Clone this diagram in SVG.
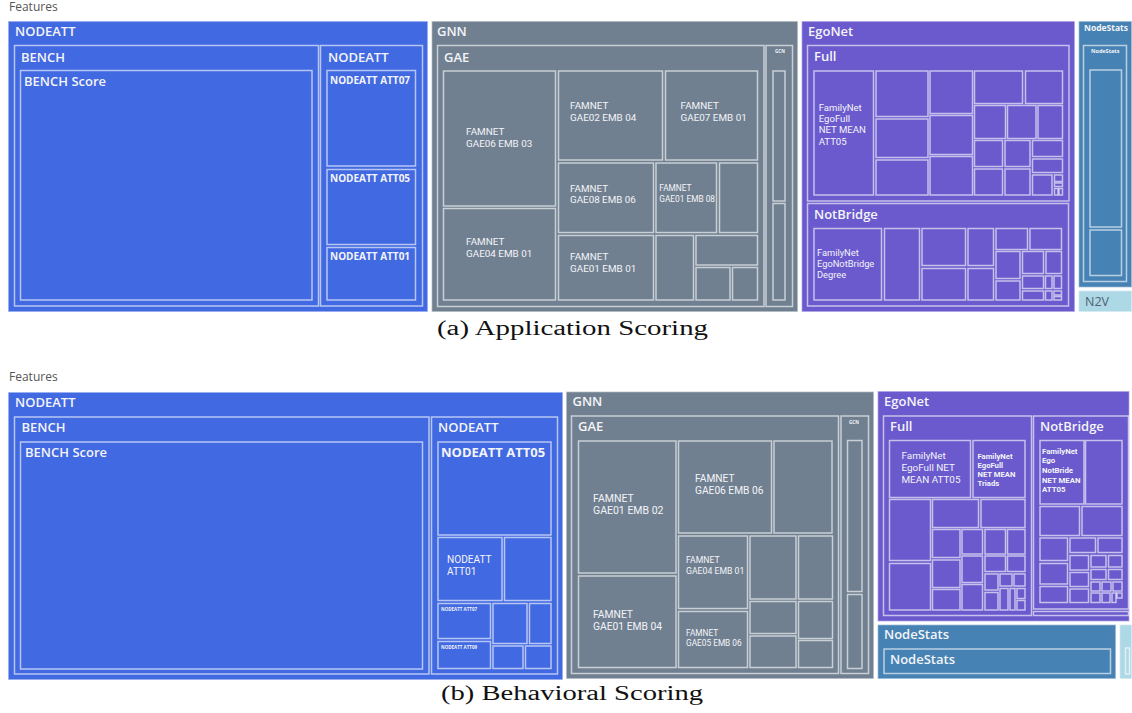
<svg xmlns="http://www.w3.org/2000/svg" width="1132" height="713" viewBox="0 0 1132 713">
<style>
rect{stroke:#ffffff;stroke-opacity:.62;stroke-width:1.5}
.na{fill:#4169E1}.gn{fill:#708090}.eg{fill:#6A5ACD}.ns{fill:#4682B4}.n2{fill:#ADD8E6}
text{font-family:"Open Sans","Liberation Sans",sans-serif;fill:#f4f4f8}
.h{font-size:13px;font-weight:600}
.m{font-size:10px;font-weight:700}
.ml{font-family:Roboto,"Liberation Sans",sans-serif;font-weight:400}
.mb{font-family:Roboto,"Liberation Sans",sans-serif;font-weight:700}
.s{font-size:8.5px;font-weight:700}
.t{font-size:4.5px;font-weight:700}
.ft{font-size:12px;fill:#555}
.cap{font-family:"Liberation Serif","DejaVu Serif",serif;font-size:20px;fill:#111}
</style>
<rect x="0" y="0" width="1132" height="713" fill="#ffffff" style="stroke:none"/>

<!-- ===== (a) Application Scoring ===== -->
<text class="ft" x="9" y="11">Features</text>
<g id="a-nodeatt">
<rect class="na" x="8" y="21" width="420" height="291"/>
<text class="h" x="15" y="36">NODEATT</text>
<g id="a-bench"><rect class="na" x="14.5" y="45.5" width="304" height="260.5"/><text class="h" x="21" y="61.5">BENCH</text></g>
<g id="a-bench-score"><rect class="na" x="20.5" y="70.5" width="291.5" height="229.5"/><text class="h" x="24" y="86">BENCH Score</text></g>
<g id="a-nodeatt2"><rect class="na" x="320.5" y="45.5" width="102" height="260.5"/><text class="h" x="328" y="61.5">NODEATT</text></g>
<g id="a-att07"><rect class="na" x="327" y="70.5" width="88.5" height="95.5"/><text class="m" x="330" y="84">NODEATT ATT07</text></g>
<g id="a-att05"><rect class="na" x="327" y="169.5" width="88.5" height="75"/><text class="m" x="330" y="182">NODEATT ATT05</text></g>
<g id="a-att01"><rect class="na" x="327" y="247.5" width="88.5" height="52.5"/><text class="m" x="330" y="260">NODEATT ATT01</text></g>
</g>

<g id="a-gnn">
<rect class="gn" x="431.5" y="21" width="366.5" height="291"/>
<text class="h" x="437" y="35.5">GNN</text>
<g id="a-gae"><rect class="gn" x="437.5" y="45.5" width="326.5" height="261"/><text class="h" x="444" y="61.5">GAE</text></g>
<g id="a-gcn"><rect class="gn" x="766" y="45.5" width="26.5" height="261"/><text class="t" x="775" y="53">GCN</text>
<rect class="gn" x="773" y="71" width="12" height="130"/><rect class="gn" x="773" y="203.5" width="12" height="96.5"/></g>
<g id="a-gae06-03"><rect class="gn" x="443.5" y="71" width="112" height="135"/><text class="ml" font-size="9.9" x="466" y="135">FAMNET<tspan x="466" dy="11.7">GAE06 EMB 03</tspan></text></g>
<g id="a-gae04-01"><rect class="gn" x="443.5" y="208.5" width="112" height="91.5"/><text class="ml" font-size="9.9" x="466" y="245">FAMNET<tspan x="466" dy="11.7">GAE04 EMB 01</tspan></text></g>
<g id="a-gae02-04"><rect class="gn" x="558.5" y="71" width="104" height="89"/><text class="ml" font-size="9.9" x="570" y="109">FAMNET<tspan x="570" dy="12">GAE02 EMB 04</tspan></text></g>
<g id="a-gae07-01"><rect class="gn" x="665.5" y="71" width="92" height="89"/><text class="ml" font-size="9.9" x="680.5" y="109">FAMNET<tspan x="680.5" dy="12">GAE07 EMB 01</tspan></text></g>
<g id="a-gae08-06"><rect class="gn" x="558.5" y="163" width="95" height="69.5"/><text class="ml" font-size="9.8" x="570" y="191.7">FAMNET<tspan x="570" dy="11.6">GAE08 EMB 06</tspan></text></g>
<g id="a-gae01-08"><rect class="gn" x="656" y="163" width="60.5" height="69.5"/><text class="ml" font-size="8.3" font-weight="500" x="659.3" y="191">FAMNET<tspan x="659.3" dy="10.7">GAE01 EMB 08</tspan></text></g>
<g id="a-gae01-01"><rect class="gn" x="558.5" y="235.5" width="95" height="64.5"/><text class="ml" font-size="9.9" x="570" y="260">FAMNET<tspan x="570" dy="11.7">GAE01 EMB 01</tspan></text></g>
<g id="a-gae-small">
<rect class="gn" x="719.5" y="163" width="38" height="69.5"/>
<rect class="gn" x="656" y="235.5" width="37.5" height="64.5"/>
<rect class="gn" x="696" y="235.5" width="61.5" height="29.5"/>
<rect class="gn" x="696" y="267.5" width="34" height="32.5"/>
<rect class="gn" x="732.5" y="267.5" width="25" height="32.5"/>
</g>
</g>

<g id="a-egonet">
<rect class="eg" x="801.5" y="21" width="273.5" height="291"/>
<text class="h" x="808" y="35.5">EgoNet</text>
<g id="a-full"><rect class="eg" x="807.5" y="45.5" width="261.5" height="155.5"/><text class="h" x="814" y="61">Full</text></g>
<g id="a-full-att05"><rect class="eg" x="814" y="71" width="59.5" height="124"/>
<text class="ml" font-size="9.6" x="818.7" y="110.7">FamilyNet<tspan x="818.7" dy="11.3">EgoFull</tspan><tspan x="818.7" dy="11.3">NET MEAN</tspan><tspan x="818.7" dy="11.4">ATT05</tspan></text></g>
<g id="a-full-small">
<rect class="eg" x="876" y="71" width="52" height="45.5"/><rect class="eg" x="876" y="119" width="52" height="38.5"/><rect class="eg" x="876" y="160" width="52" height="35"/>
<rect class="eg" x="930" y="71" width="42.5" height="42.5"/><rect class="eg" x="930" y="115.5" width="42.5" height="39"/><rect class="eg" x="930" y="156.5" width="42.5" height="38.5"/>
<rect class="eg" x="974.5" y="71" width="48" height="32.5"/><rect class="eg" x="1025.5" y="71" width="37" height="32.5"/>
<rect class="eg" x="974.5" y="105.5" width="31" height="33"/><rect class="eg" x="1007.5" y="105.5" width="28.5" height="33"/><rect class="eg" x="1038" y="105.5" width="24.5" height="33"/>
<rect class="eg" x="974.5" y="140.5" width="28" height="26"/><rect class="eg" x="1005" y="140.5" width="25" height="26"/><rect class="eg" x="1032.5" y="140.5" width="30" height="16"/><rect class="eg" x="1032.5" y="159" width="30" height="13.5"/>
<rect class="eg" x="974.5" y="169" width="28" height="26"/><rect class="eg" x="1005" y="169" width="25" height="26"/><rect class="eg" x="1032.5" y="175" width="19.5" height="20"/>
<rect class="eg" x="1054.5" y="175" width="8" height="6.5"/><rect class="eg" x="1054.5" y="183" width="8" height="3.5"/><rect class="eg" x="1054.5" y="188.5" width="3.5" height="6.5"/><rect class="eg" x="1059" y="188.5" width="3.5" height="6.5"/>
</g>
<g id="a-notbridge"><rect class="eg" x="807.5" y="203.5" width="261" height="102.5"/><text class="h" x="814" y="218.5">NotBridge</text></g>
<g id="a-nb-degree"><rect class="eg" x="814" y="228.5" width="67.5" height="71.5"/>
<text class="ml" font-size="9.3" x="817" y="255.7">FamilyNet<tspan x="817" dy="11">EgoNotBridge</tspan><tspan x="817" dy="11">Degree</tspan></text></g>
<g id="a-nb-small">
<rect class="eg" x="884.5" y="228.5" width="35" height="71.5"/>
<rect class="eg" x="922" y="228.5" width="43.5" height="37"/><rect class="eg" x="922" y="268.5" width="43.5" height="31.5"/>
<rect class="eg" x="968" y="228.5" width="25.5" height="37"/><rect class="eg" x="968" y="268.5" width="25.5" height="31.5"/>
<rect class="eg" x="996" y="228.5" width="31.5" height="21"/><rect class="eg" x="1030" y="228.5" width="31.5" height="21"/>
<rect class="eg" x="996" y="251.5" width="24" height="27"/><rect class="eg" x="1022.5" y="251.5" width="21" height="22"/><rect class="eg" x="1046" y="251.5" width="15.5" height="22"/>
<rect class="eg" x="996" y="281" width="24" height="19"/><rect class="eg" x="1022.5" y="276" width="21" height="12.5"/><rect class="eg" x="1045.5" y="276" width="6.5" height="12.5"/><rect class="eg" x="1054" y="276" width="7.5" height="12.5"/>
<rect class="eg" x="1022.5" y="291" width="21" height="9"/><rect class="eg" x="1045.5" y="291" width="6.5" height="9"/><rect class="eg" x="1054" y="291" width="7.5" height="4"/><rect class="eg" x="1054" y="296.5" width="7.5" height="3.5"/>
</g>
</g>

<g id="a-nodestats">
<rect class="ns" x="1078.5" y="21" width="53.5" height="266.5"/>
<text class="s" x="1084" y="31">NodeStats</text>
<g id="a-nodestats2"><rect class="ns" x="1083.5" y="45.5" width="43" height="236"/><text class="t" x="1091" y="53" style="font-size:5.5px">NodeStats</text>
<rect class="ns" x="1090" y="70" width="31.5" height="157"/><rect class="ns" x="1090" y="230" width="31.5" height="45.5"/></g>
</g>
<g id="a-n2v"><rect class="n2" x="1078.5" y="290.5" width="53.5" height="21.5"/><text x="1085" y="305.5" style="font-size:12.5px;fill:#4f6070">N2V</text></g>
<text class="cap" x="437" y="335" textLength="271" lengthAdjust="spacingAndGlyphs">(a) Application Scoring</text>

<!-- ===== (b) Behavioral Scoring ===== -->
<text class="ft" x="9" y="381">Features</text>
<g id="b-nodeatt">
<rect class="na" x="8" y="392" width="555" height="288"/>
<text class="h" x="15" y="406.5">NODEATT</text>
<g id="b-bench"><rect class="na" x="14.5" y="417" width="414.5" height="257"/><text class="h" x="21.5" y="431.5">BENCH</text></g>
<g id="b-bench-score"><rect class="na" x="20.5" y="442" width="402" height="227"/><text class="h" x="25" y="456.5">BENCH Score</text></g>
<g id="b-nodeatt2"><rect class="na" x="431.5" y="417" width="126" height="257"/><text class="h" x="438" y="431.5">NODEATT</text></g>
<g id="b-att05"><rect class="na" x="438" y="442" width="113" height="93"/><text class="h" x="441" y="456.5" style="font-weight:700">NODEATT ATT05</text></g>
<g id="b-att01"><rect class="na" x="438" y="537.5" width="64" height="63"/><text class="ml" font-size="10.1" x="447" y="563.3">NODEATT<tspan x="447" dy="12">ATT01</tspan></text></g>
<g id="b-att-small">
<rect class="na" x="504.5" y="537.5" width="46.5" height="63"/>
<rect class="na" x="438" y="603.5" width="52.5" height="35"/><text class="t" x="441" y="610.5">NODEATT ATT07</text>
<rect class="na" x="493" y="603.5" width="34" height="40"/>
<rect class="na" x="529.5" y="603.5" width="21.5" height="40"/>
<rect class="na" x="438" y="641.5" width="52.5" height="27"/><text class="t" x="441" y="648.5">NODEATT ATT09</text>
<rect class="na" x="493" y="646" width="30" height="22.5"/>
<rect class="na" x="525.5" y="646" width="25.5" height="22.5"/>
</g>
</g>

<g id="b-gnn">
<rect class="gn" x="566" y="391.5" width="308" height="287.5"/>
<text class="h" x="572.5" y="405.5">GNN</text>
<g id="b-gae"><rect class="gn" x="571.5" y="416" width="267" height="257.5"/><text class="h" x="578" y="431">GAE</text></g>
<g id="b-gcn"><rect class="gn" x="841" y="416" width="27.5" height="257.5"/><text class="t" x="849" y="424">GCN</text>
<rect class="gn" x="847.5" y="440.5" width="14.5" height="151"/><rect class="gn" x="847.5" y="594.5" width="14.5" height="74"/></g>
<g id="b-gae01-02"><rect class="gn" x="578.5" y="441" width="97.5" height="132"/><text class="ml" font-size="10.5" x="593" y="501.7">FAMNET<tspan x="593" dy="12.6">GAE01 EMB 02</tspan></text></g>
<g id="b-gae01-04"><rect class="gn" x="578.5" y="576" width="97.5" height="91.5"/><text class="ml" font-size="10.3" x="593" y="617.5">FAMNET<tspan x="593" dy="12.2">GAE01 EMB 04</tspan></text></g>
<g id="b-gae06-06"><rect class="gn" x="678.5" y="441" width="93" height="92"/><text class="ml" font-size="10.2" x="695" y="482.3">FAMNET<tspan x="695" dy="12">GAE06 EMB 06</tspan></text></g>
<g id="b-gae04-01"><rect class="gn" x="678.5" y="536" width="69" height="72.5"/><text class="ml" font-size="8.7" font-weight="500" x="686" y="563.3">FAMNET<tspan x="686" dy="10.3">GAE04 EMB 01</tspan></text></g>
<g id="b-gae05-06"><rect class="gn" x="678.5" y="611.5" width="69" height="56"/><text class="ml" font-size="8.3" font-weight="500" x="686" y="636.4">FAMNET<tspan x="686" dy="9.8">GAE05 EMB 06</tspan></text></g>
<g id="b-gae-small">
<rect class="gn" x="774" y="441" width="58" height="92"/>
<rect class="gn" x="750" y="536" width="46" height="63"/><rect class="gn" x="798.5" y="536" width="34" height="63"/>
<rect class="gn" x="750" y="601.5" width="46" height="32"/><rect class="gn" x="750" y="636" width="46" height="31.5"/>
<rect class="gn" x="798.5" y="601.5" width="34" height="37"/><rect class="gn" x="798.5" y="640.5" width="34" height="27"/>
</g>
</g>

<g id="b-egonet">
<rect class="eg" x="877.5" y="391" width="252" height="230.5"/>
<text class="h" x="884" y="405.5">EgoNet</text>
<g id="b-full"><rect class="eg" x="883.5" y="416" width="148" height="199.5"/><text class="h" x="890" y="431">Full</text></g>
<g id="b-full-att05"><rect class="eg" x="889.5" y="440.5" width="81" height="57"/>
<text class="ml" font-size="9.9" x="901.5" y="459.3">FamilyNet<tspan x="901.5" dy="11.7">EgoFull NET</tspan><tspan x="901.5" dy="11.7">MEAN ATT05</tspan></text></g>
<g id="b-full-triads"><rect class="eg" x="973" y="440.5" width="52" height="57"/>
<text class="mb" font-size="7.7" x="977.5" y="458.7">FamilyNet<tspan x="977.5" dy="9.1">EgoFull</tspan><tspan x="977.5" dy="9.2">NET MEAN</tspan><tspan x="977.5" dy="9.2">Triads</tspan></text></g>
<g id="b-full-small">
<rect class="eg" x="889.5" y="499.5" width="41" height="61"/><rect class="eg" x="889.5" y="563.5" width="41" height="46.5"/>
<rect class="eg" x="932.5" y="499.5" width="46" height="28"/><rect class="eg" x="981" y="499.5" width="44" height="28"/>
<rect class="eg" x="932.5" y="529.5" width="27.5" height="28"/><rect class="eg" x="962" y="529.5" width="20.5" height="24.5"/><rect class="eg" x="985" y="529.5" width="20.5" height="24.5"/><rect class="eg" x="1007.5" y="529.5" width="17.5" height="24.5"/>
<rect class="eg" x="932.5" y="560" width="27.5" height="27.5"/><rect class="eg" x="932.5" y="589.5" width="27.5" height="20.5"/>
<rect class="eg" x="962" y="556" width="20.5" height="26.5"/><rect class="eg" x="962" y="584.5" width="20.5" height="25.5"/>
<rect class="eg" x="985" y="556" width="20.5" height="15.5"/><rect class="eg" x="1007.5" y="556" width="17.5" height="15.5"/>
<rect class="eg" x="985" y="574" width="13" height="16"/><rect class="eg" x="1000" y="574" width="12" height="12"/><rect class="eg" x="1014" y="574" width="11" height="12"/>
<rect class="eg" x="985" y="592.5" width="13" height="17.5"/><rect class="eg" x="1000" y="588.5" width="8" height="21.5"/><rect class="eg" x="1010" y="588.5" width="5" height="21.5"/><rect class="eg" x="1017" y="588.5" width="8" height="10"/><rect class="eg" x="1017" y="600.5" width="8" height="9.5"/>
</g>
<g id="b-notbridge"><rect class="eg" x="1033.5" y="416" width="95" height="193"/><text class="h" x="1040" y="431">NotBridge</text></g>
<g id="b-nb-att05"><rect class="eg" x="1040" y="440.5" width="44" height="63.5"/>
<text class="mb" font-size="7.8" x="1042" y="454">FamilyNet<tspan x="1042" dy="9.3">Ego</tspan><tspan x="1042" dy="9.4">NotBride</tspan><tspan x="1042" dy="10">NET MEAN</tspan><tspan x="1042" dy="9.3">ATT05</tspan></text></g>
<g id="b-nb-small">
<rect class="eg" x="1085.5" y="440.5" width="36.5" height="63.5"/>
<rect class="eg" x="1040" y="506.5" width="39.5" height="29"/><rect class="eg" x="1082" y="506.5" width="40" height="29"/>
<rect class="eg" x="1040" y="538" width="27.5" height="22.5"/><rect class="eg" x="1040" y="563.5" width="27.5" height="20.5"/><rect class="eg" x="1040" y="586.5" width="27.5" height="16"/>
<rect class="eg" x="1070" y="538" width="25.5" height="14.5"/><rect class="eg" x="1098" y="538" width="24" height="14.5"/>
<rect class="eg" x="1070" y="555.5" width="18.5" height="14.5"/><rect class="eg" x="1070" y="572.5" width="18.5" height="14"/><rect class="eg" x="1070" y="589" width="18.5" height="13.5"/>
<rect class="eg" x="1091" y="555.5" width="15" height="11.5"/><rect class="eg" x="1108.5" y="555.5" width="13.5" height="11.5"/>
<rect class="eg" x="1091" y="569.5" width="15" height="10"/><rect class="eg" x="1108.5" y="569.5" width="13.5" height="10"/>
<rect class="eg" x="1091" y="582" width="9" height="9"/><rect class="eg" x="1102" y="582" width="9" height="9"/><rect class="eg" x="1113" y="582" width="9" height="9"/>
<rect class="eg" x="1091" y="593" width="9" height="9.5"/><rect class="eg" x="1102" y="593" width="8" height="9.5"/><rect class="eg" x="1112" y="593" width="4" height="9.5"/><rect class="eg" x="1117" y="593" width="5" height="5"/>
</g>
<g id="b-ego-other"><rect class="eg" x="1033.5" y="611.5" width="95" height="4"/></g>
</g>

<g id="b-nodestats">
<rect class="ns" x="877.5" y="624.5" width="238.5" height="54.5"/>
<text class="h" x="884" y="638.5">NodeStats</text>
<g id="b-nodestats2"><rect class="ns" x="884" y="649" width="226.5" height="24.5"/><text class="h" x="890" y="664">NodeStats</text></g>
</g>
<g id="b-n2v"><rect class="n2" x="1119.5" y="624.5" width="12.5" height="54.5"/><rect class="n2" x="1125.5" y="648" width="4" height="26"/></g>
<text class="cap" x="441" y="700" textLength="262" lengthAdjust="spacingAndGlyphs">(b) Behavioral Scoring</text>
</svg>
